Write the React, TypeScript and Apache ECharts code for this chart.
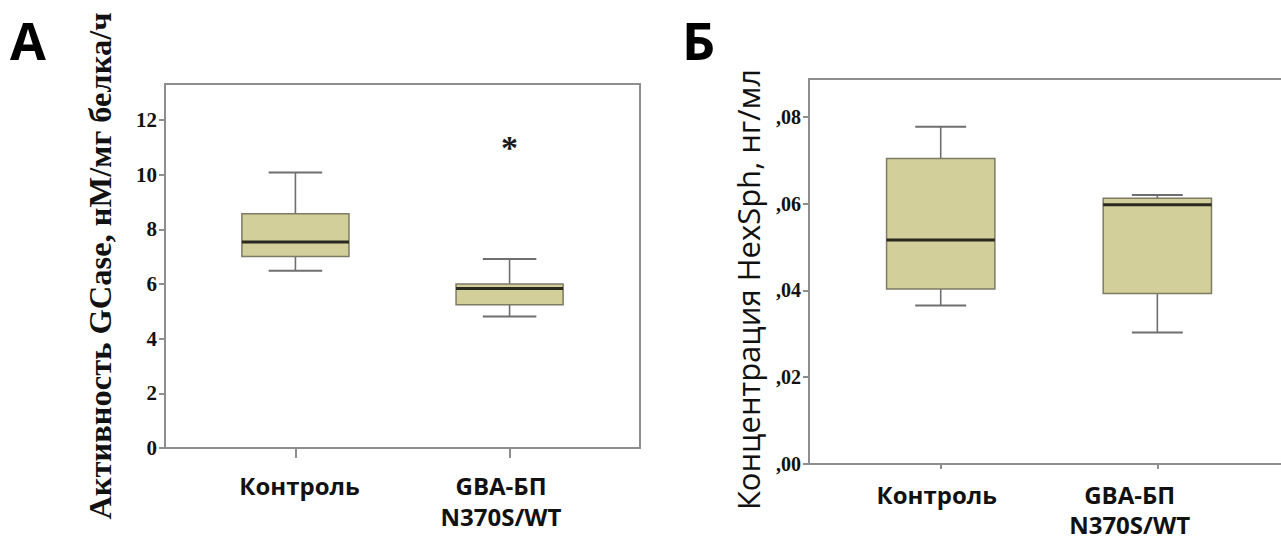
import React, { useEffect, useRef } from "react";
import * as echarts from "echarts";

// Group names shown under each panel
const groupNames: string[] = ["Контроль", "GBA-БП\nN370S/WT"];

// Panel А: GCase activity, box statistics per group [x, min, Q1, median, Q3, max]
const gcaseStats: number[][] = [
  [1, 6.49, 7.01, 7.54, 8.57, 10.08],
  [2, 4.81, 5.24, 5.84, 6.0, 6.92],
];
// Panel А: extreme values marked with an asterisk [x, value]
const gcaseExtremes: number[][] = [[2, 11.09]];
const gcaseTicks: number[] = [0, 2, 4, 6, 8, 10, 12];

// Panel Б: HexSph concentration, box statistics per group [x, min, Q1, median, Q3, max]
const hexsphStats: number[][] = [
  [1, 0.0365, 0.0403, 0.0516, 0.0704, 0.0777],
  [2, 0.0303, 0.0393, 0.0597, 0.0612, 0.062],
];
const hexsphTicks: number[] = [0, 0.02, 0.04, 0.06, 0.08];

const BOX_FILL = "#d3cf9a";
const BOX_EDGE = "#7d7b66";
const WHISKER = "#6f6f6f";
const MEDIAN = "#2a2920";
const FRAME = "#8e8e8e";

const SERIF = '"Liberation Serif", "Times New Roman", serif';
const SANS = '"Open Sans", "Noto Sans", sans-serif';

function boxRenderer(boxW: number, capW: number) {
  return (_params: any, api: any) => {
    const x = api.value(0);
    const pLo = api.coord([x, api.value(1)]);
    const pQ1 = api.coord([x, api.value(2)]);
    const pMed = api.coord([x, api.value(3)]);
    const pQ3 = api.coord([x, api.value(4)]);
    const pHi = api.coord([x, api.value(5)]);
    const halfBox = api.size([boxW, 0])[0] / 2;
    const halfCap = api.size([capW, 0])[0] / 2;
    const cx = pLo[0];
    const whisker = { stroke: WHISKER, lineWidth: 1.6 };
    return {
      type: "group",
      children: [
        { type: "line", shape: { x1: cx, y1: pHi[1], x2: cx, y2: pQ3[1] }, style: whisker },
        { type: "line", shape: { x1: cx, y1: pQ1[1], x2: cx, y2: pLo[1] }, style: whisker },
        { type: "line", shape: { x1: cx - halfCap, y1: pHi[1], x2: cx + halfCap, y2: pHi[1] }, style: { stroke: WHISKER, lineWidth: 2 } },
        { type: "line", shape: { x1: cx - halfCap, y1: pLo[1], x2: cx + halfCap, y2: pLo[1] }, style: { stroke: WHISKER, lineWidth: 2 } },
        {
          type: "rect",
          shape: { x: cx - halfBox, y: pQ3[1], width: halfBox * 2, height: pQ1[1] - pQ3[1] },
          style: { fill: BOX_FILL, stroke: BOX_EDGE, lineWidth: 1.5 },
        },
        { type: "line", shape: { x1: cx - halfBox, y1: pMed[1], x2: cx + halfBox, y2: pMed[1] }, style: { stroke: MEDIAN, lineWidth: 3 } },
      ],
    };
  };
}

function extremeRenderer(_params: any, api: any) {
  const p = api.coord([api.value(0), api.value(1)]);
  return {
    type: "text",
    x: p[0],
    y: p[1] + 3,
    style: {
      text: "*",
      fill: "#1a1a1a",
      font: `bold 34px ${SERIF}`,
      align: "center",
      verticalAlign: "middle",
    },
  };
}

const xLabelStyle = {
  fontFamily: SANS,
  fontWeight: "bold" as const,
  fontSize: 24,
  color: "#111",
};

export default function App() {
  const ref = useRef<HTMLDivElement>(null);

  useEffect(() => {
    if (!ref.current) return;
    const chart = echarts.init(ref.current, undefined, { renderer: "svg" });

    const option: any = {
      animation: false,
      backgroundColor: "#ffffff",
      grid: [
        {
          left: 165, top: 84, width: 475, height: 364,
          outerBoundsMode: "none", containLabel: false,
          show: true, borderColor: FRAME, borderWidth: 2, backgroundColor: "transparent",
        },
        {
          left: 809, top: 79, width: 482, height: 385,
          outerBoundsMode: "none", containLabel: false,
          show: true, borderColor: FRAME, borderWidth: 2, backgroundColor: "transparent",
        },
      ],
      xAxis: [
        {
          type: "value",
          gridIndex: 0,
          min: 0.391,
          max: 2.609,
          axisLine: { show: false },
          splitLine: { show: false },
          axisTick: { show: true, customValues: [1, 2], length: 10, lineStyle: { color: FRAME, width: 2 } },
          axisLabel: {
            customValues: [1.019, 1.96],
            margin: 22,
            lineHeight: 31,
            formatter: (v: number) => (v < 1.5 ? groupNames[0] : groupNames[1]),
            ...xLabelStyle,
          },
        },
        {
          type: "value",
          gridIndex: 1,
          min: 0.392,
          max: 2.617,
          axisLine: { show: false },
          splitLine: { show: false },
          axisTick: { show: true, customValues: [1, 2], length: 5, lineStyle: { color: FRAME, width: 2 } },
          axisLabel: {
            customValues: [0.982, 1.872],
            margin: 15,
            lineHeight: 30,
            formatter: (v: number) => (v < 1.5 ? groupNames[0] : groupNames[1]),
            ...xLabelStyle,
          },
        },
      ],
      yAxis: [
        {
          type: "value",
          gridIndex: 0,
          min: 0,
          max: 13.32,
          axisLine: { show: false },
          splitLine: { show: false },
          axisTick: { show: true, customValues: gcaseTicks, length: 6, lineStyle: { color: FRAME, width: 2 } },
          axisLabel: {
            customValues: gcaseTicks,
            margin: 8,
            fontFamily: SERIF,
            fontWeight: "bold",
            fontSize: 21,
            color: "#111",
          },
          name: "Активность GCase, нМ/мг белка/ч",
          nameLocation: "middle",
          nameRotate: 90,
          nameGap: 49,
          nameTextStyle: { fontFamily: SERIF, fontWeight: "bold", fontSize: 32.5, color: "#111" },
        },
        {
          type: "value",
          gridIndex: 1,
          min: 0,
          max: 0.0887,
          axisLine: { show: false },
          splitLine: { show: false },
          axisTick: { show: true, customValues: hexsphTicks, length: 6, lineStyle: { color: FRAME, width: 2 } },
          axisLabel: {
            customValues: hexsphTicks,
            margin: 8,
            formatter: (v: number) => v.toFixed(2).replace(/^0\./, ","),
            fontFamily: SERIF,
            fontWeight: "bold",
            fontSize: 20,
            color: "#111",
          },
          name: "Концентрация HexSph, нг/мл",
          nameLocation: "middle",
          nameRotate: 90,
          nameGap: 46,
          nameTextStyle: { fontFamily: SANS, fontSize: 31, color: "#111", padding: [0, 36, 0, 0] },
        },
      ],
      series: [
        {
          type: "custom",
          xAxisIndex: 0,
          yAxisIndex: 0,
          renderItem: boxRenderer(0.5, 0.25),
          encode: { x: 0, y: [1, 2, 3, 4, 5] },
          data: gcaseStats,
          silent: true,
        },
        {
          type: "custom",
          xAxisIndex: 0,
          yAxisIndex: 0,
          renderItem: extremeRenderer,
          encode: { x: 0, y: 1 },
          data: gcaseExtremes,
          silent: true,
        },
        {
          type: "custom",
          xAxisIndex: 1,
          yAxisIndex: 1,
          renderItem: boxRenderer(0.5, 0.235),
          encode: { x: 0, y: [1, 2, 3, 4, 5] },
          data: hexsphStats,
          silent: true,
        },
      ],
      graphic: [
        { type: "text", left: 10, top: 13, style: { text: "А", font: `bold 52px ${SANS}`, fill: "#000" } },
        { type: "text", left: 682, top: 13, style: { text: "Б", font: `bold 52px ${SANS}`, fill: "#000" } },
      ],
    };

    chart.setOption(option);
    return () => chart.dispose();
  }, []);

  return (
    <div
      ref={ref}
      style={{ position: "fixed", left: 0, top: 0, width: 1281, height: 539, background: "#fff" }}
    />
  );
}
